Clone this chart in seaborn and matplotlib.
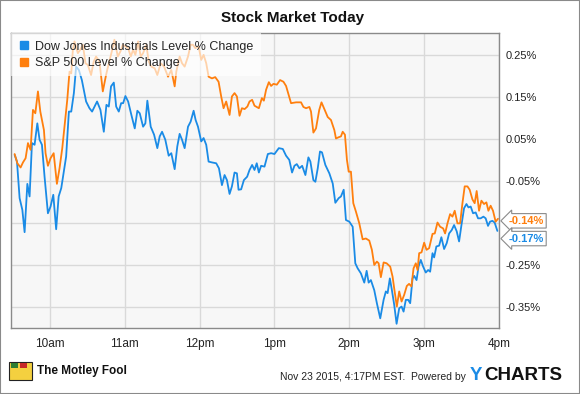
import pandas as pd
import seaborn as sns
import matplotlib
import matplotlib.pyplot as plt
from matplotlib.patches import Rectangle
from matplotlib.lines import Line2D
matplotlib.use('Agg')

# minutes since 9:30 and % change
dow_min = [1.7, 3.6, 5.7, 7.9, 9.7, 11.9, 13.7, 15.6, 17.7, 19.9, 21.7, 23.6, 25.7, 28.4, 30.5,
           32.7, 35.0, 37.0, 39.1, 43.0, 45.2, 47.1, 49.2, 51.0, 53.2, 55.6, 59.0, 61.7, 63.8,
           67.8, 70.5, 73.2, 75.3, 77.2, 79.0, 81.2, 83.1, 85.2, 87.1, 88.7, 90.5, 92.7, 95.3,
           98.0, 100.1, 102.0, 104.7, 106.5, 108.1, 110.8, 113.5, 116.1, 118.0, 119.9, 122.5,
           125.2, 127.3, 130.0, 132.1, 134.0, 135.9, 138.0, 140.7, 142.8, 145.2, 146.8, 148.7,
           151.3, 153.2, 155.3, 157.2, 159.9, 163.3, 165.5, 167.9, 170.0, 171.9, 174.0, 175.9,
           178.0, 179.9, 181.2, 183.3, 185.5, 188.1, 190.0, 192.1, 194.0, 195.8, 197.5, 199.3,
           202.0, 204.7, 207.3, 210.0, 213.5, 216.7, 219.3, 221.9, 224.1, 226.0, 227.9, 230.0,
           232.2, 234.8, 237.2, 238.8, 241.2, 242.8, 244.7, 246.5, 248.1, 250.8, 254.0, 256.7,
           258.8, 261.5, 263.3, 265.5, 267.3, 270.0, 272.7, 274.8, 276.7, 279.3, 282.0, 283.9,
           285.5, 287.3, 290.0, 292.1, 294.8, 297.5, 299.3, 300.7, 302.5, 304.1, 306.0, 307.9,
           310.0, 311.9, 313.5, 315.3, 317.2, 318.8, 320.7, 322.0, 323.9, 325.5, 327.3, 329.2,
           331.3, 333.2, 334.8, 336.7, 338.0, 339.8, 342.0, 343.8, 346.0, 348.1, 350.0, 352.1,
           354.0, 356.1, 358.0, 359.9, 362.0, 363.9, 365.5, 367.3, 369.2, 371.3, 373.2, 375.3,
           377.5, 379.3, 381.2, 382.8, 384.7, 386.5, 388.7]
dow_val = [0.012, -0.004, -0.091, -0.119, -0.172, -0.057, -0.087, 0.040, 0.036, 0.087, 0.048, 0.036,
           -0.040, -0.127, -0.111, -0.083, -0.165, -0.087, -0.067, 0.008, 0.115, 0.115, 0.159, 0.222,
           0.214, 0.190, 0.139, 0.123, 0.115, 0.139, 0.119, 0.067, 0.131, 0.127, 0.175, 0.184, 0.127,
           0.115, 0.135, 0.135, 0.152, 0.139, 0.107, 0.075, 0.117, 0.111, 0.079, 0.087, 0.141, 0.079,
           0.060, 0.028, 0.056, 0.067, 0.048, 0.010, 0.016, -0.022, 0.032, 0.062, 0.048, 0.028, 0.079,
           0.091, 0.117, 0.095, 0.079, 0.044, 0.052, 0.036, -0.004, -0.006, -0.008, -0.020, -0.060,
           -0.036, -0.048, -0.081, -0.063, -0.030, -0.032, -0.071, -0.070, -0.048, -0.040, -0.024,
           -0.012, -0.024, -0.008, -0.030, -0.014, -0.016, 0.014, 0.016, 0.014, 0.028, 0.026, 0.010,
           0.000, -0.030, -0.014, -0.010, -0.020, -0.014, -0.036, 0.006, -0.004, -0.048, -0.052,
           -0.020, 0.020, 0.018, -0.012, -0.032, -0.056, -0.102, -0.091, -0.087, -0.071, -0.143,
           -0.147, -0.159, -0.246, -0.258, -0.270, -0.292, -0.264, -0.292, -0.286, -0.310, -0.341,
           -0.377, -0.333, -0.313, -0.317, -0.282, -0.309, -0.345, -0.390, -0.353, -0.349, -0.361,
           -0.333, -0.333, -0.341, -0.282, -0.276, -0.286, -0.254, -0.238, -0.254, -0.268, -0.262,
           -0.266, -0.222, -0.232, -0.206, -0.204, -0.184, -0.212, -0.198, -0.175, -0.167, -0.155,
           -0.170, -0.194, -0.155, -0.115, -0.105, -0.113, -0.111, -0.127, -0.125, -0.139, -0.139,
           -0.135, -0.139, -0.157, -0.147, -0.145, -0.149, -0.169]

sp_min = [1.7, 3.9, 6.5, 8.4, 10.5, 12.4, 14.5, 16.4, 18.3, 20.4, 22.3, 23.9, 25.2, 26.5, 28.4,
          30.5, 33.0, 35.6, 37.7, 39.9, 41.7, 43.9, 45.7, 47.1, 48.4, 49.7, 52.4, 54.3, 56.4,
          58.5, 60.4, 63.0, 65.1, 67.0, 69.7, 72.4, 75.0, 77.2, 79.6, 81.7, 84.4, 86.5, 88.4,
          90.5, 92.7, 94.8, 96.7, 98.5, 100.7, 102.8, 104.7, 107.3, 109.2, 111.3, 114.0, 116.1,
          118.8, 121.5, 124.7, 127.3, 130.0, 131.3, 134.0, 135.9, 138.0, 140.7, 142.8, 144.7,
          146.5, 149.2, 151.3, 153.2, 155.3, 157.2, 159.9, 162.5, 165.2, 167.3, 169.2, 171.3,
          174.0, 175.9, 178.0, 179.9, 182.0, 183.9, 186.1, 188.3, 190.0, 192.1, 194.0, 197.5,
          199.9, 201.5, 203.3, 205.5, 207.3, 209.2, 211.9, 214.5, 217.2, 219.3, 223.3, 227.3,
          231.3, 233.2, 235.3, 238.0, 239.3, 241.2, 243.3, 245.9, 247.7, 250.3, 252.7, 255.3,
          258.0, 259.3, 261.5, 263.3, 264.7, 266.5, 268.1, 269.5, 271.3, 273.2, 275.3, 278.0,
          280.7, 283.3, 286.0, 288.1, 290.0, 292.1, 293.5, 295.3, 297.5, 299.9, 302.8, 304.7,
          306.0, 308.1, 310.0, 311.9, 314.0, 316.1, 317.9, 319.8, 321.5, 323.3, 324.7, 326.0,
          327.9, 330.0, 331.9, 334.0, 336.7, 338.5, 340.7, 342.8, 345.2, 346.8, 348.7, 350.8,
          352.7, 354.5, 356.7, 358.8, 360.7, 362.5, 364.7, 366.5, 368.7, 370.5, 372.1, 374.0,
          375.9, 378.0, 379.9, 381.5, 383.3, 385.2, 387.3, 389.2]
sp_val = [0.014, -0.008, -0.018, -0.006, 0.004, 0.040, 0.024, 0.119, 0.111, 0.163, 0.115, 0.091,
          0.071, 0.016, -0.014, 0.004, 0.016, -0.057, -0.020, 0.028, 0.079, 0.143, 0.210, 0.206,
          0.262, 0.282, 0.254, 0.262, 0.274, 0.230, 0.226, 0.202, 0.234, 0.246, 0.234, 0.163,
          0.202, 0.230, 0.258, 0.286, 0.246, 0.258, 0.274, 0.270, 0.266, 0.246, 0.262, 0.250,
          0.282, 0.246, 0.254, 0.274, 0.234, 0.222, 0.218, 0.202, 0.230, 0.222, 0.198, 0.214,
          0.175, 0.210, 0.246, 0.230, 0.222, 0.246, 0.274, 0.274, 0.266, 0.270, 0.238, 0.250,
          0.230, 0.198, 0.194, 0.197, 0.186, 0.151, 0.123, 0.139, 0.107, 0.151, 0.159, 0.151,
          0.105, 0.123, 0.121, 0.127, 0.139, 0.143, 0.129, 0.123, 0.147, 0.141, 0.167, 0.185,
          0.176, 0.181, 0.179, 0.190, 0.186, 0.176, 0.135, 0.137, 0.137, 0.126, 0.123, 0.126,
          0.115, 0.065, 0.075, 0.119, 0.137, 0.119, 0.102, 0.095, 0.071, 0.051, 0.054, 0.056,
          0.067, 0.060, 0.000, -0.028, -0.028, -0.103, -0.123, -0.151, -0.189, -0.187, -0.192,
          -0.214, -0.250, -0.242, -0.246, -0.279, -0.244, -0.246, -0.254, -0.278, -0.306, -0.349,
          -0.313, -0.337, -0.321, -0.300, -0.295, -0.301, -0.258, -0.246, -0.262, -0.222, -0.220,
          -0.197, -0.214, -0.210, -0.176, -0.175, -0.149, -0.159, -0.163, -0.175, -0.151, -0.129,
          -0.135, -0.121, -0.151, -0.151, -0.103, -0.063, -0.063, -0.071, -0.094, -0.103, -0.074,
          -0.121, -0.097, -0.105, -0.101, -0.121, -0.109, -0.121, -0.147, -0.140]

series_names = ["Dow Jones Industrials Level % Change", "S&P 500 Level % Change"]
colors = ["#1a8be6", "#ff7f0e"]
x_ticks = [30, 90, 150, 210, 270, 330, 390]
x_labels = ["10am", "11am", "12pm", "1pm", "2pm", "3pm", "4pm"]
y_ticks = [0.25, 0.15, 0.05, -0.05, -0.15, -0.25, -0.35]
y_labels = ["0.25%", "0.15%", "0.05%", "-0.05%", "", "-0.25%", "-0.35%"]

df = pd.concat([
    pd.DataFrame({"minute": dow_min, "change": dow_val, "series": series_names[0]}),
    pd.DataFrame({"minute": sp_min, "change": sp_val, "series": series_names[1]}),
])

sns.set_style("whitegrid", {"axes.facecolor": "#f7f7f7", "grid.color": "#d9d9d9",
                            "axes.edgecolor": "#8a8a8a"})
plt.rcParams['font.family'] = ['Liberation Sans', 'DejaVu Sans']

fig = plt.figure(figsize=(5.8, 3.94), dpi=100)
ax = fig.add_axes([11 / 580, 66 / 394, 488 / 580, 295 / 394])

sns.lineplot(data=df, x="minute", y="change", hue="series", palette=colors,
             estimator=None, sort=False, linewidth=1.3, ax=ax, legend=False)

ax.set_xlim(-1.2, 390)
ax.set_ylim(-0.40, 0.302)
ax.set_xticks(x_ticks)
ax.set_xticklabels(x_labels)
ax.set_yticks(y_ticks)
ax.set_yticklabels(y_labels)
ax.yaxis.tick_right()
ax.tick_params(axis='both', length=0, labelsize=8, colors='#222222')
ax.tick_params(axis='x', pad=7, labelsize=8.5)
ax.tick_params(axis='y', pad=5)
ax.set_xlabel("")
ax.set_ylabel("")
ax.grid(True, linewidth=1)
for s in ax.spines.values():
    s.set_linewidth(1)

# legend on top of the lines
handles = [Line2D([], [], marker='s', linestyle='', color=c, markersize=6) for c in colors]
leg = ax.legend(handles, series_names, loc='upper left', fontsize=9, frameon=True,
                fancybox=False, framealpha=0.65, edgecolor='none', facecolor='white',
                handlelength=0.8, handletextpad=0.5, labelspacing=0.35,
                borderaxespad=0, borderpad=0.6)

# last value tags
for vals, c, dy in [(sp_val, colors[1], -1.5), (dow_val, colors[0], -5.5)]:
    ax.annotate(f"{vals[-1]:.2f}%", xy=(390, vals[-1]), xytext=(7, dy), textcoords='offset points',
                ha='left', va='center', fontsize=8, fontweight='bold', color=c,
                annotation_clip=False,
                bbox=dict(boxstyle='larrow,pad=0.2', fc='white', ec='#8a8a8a', lw=0.8))

fig.text(0.505, 0.955, "Stock Market Today", ha='center', va='center', fontsize=11,
         fontweight='bold', color='#111111')

# footer
fig.add_artist(Rectangle((9 / 580, 14 / 394), 23 / 580, 18 / 394, transform=fig.transFigure,
                         fc='#f4d03f', ec='#222222', lw=0.8))
fig.add_artist(Rectangle((11 / 580, 26 / 394), 7 / 580, 5 / 394, transform=fig.transFigure,
                         fc='#2e7d32', ec='none'))
fig.add_artist(Rectangle((20 / 580, 26 / 394), 7 / 580, 5 / 394, transform=fig.transFigure,
                         fc='#c62828', ec='none'))
fig.text(37 / 580, 23 / 394, "The Motley Fool", ha='left', va='center', fontsize=8.5,
         fontweight='bold', color='#111111')
fig.text(466 / 580, 17 / 394, "Nov 23 2015, 4:17PM EST.  Powered by", ha='right', va='center',
         fontsize=7.5, color='#222222')
fig.text(470 / 580, 18 / 394, "Y", ha='left', va='center', fontsize=13.5, fontweight='bold',
         color='#1a8be6')
fig.text(484 / 580, 18 / 394, "CHARTS", ha='left', va='center', fontsize=13.5, fontweight='bold',
         color='#111111')

fig.add_artist(Rectangle((0, 0), 1, 1, transform=fig.transFigure, fill=False,
                         ec='#8a8a8a', lw=1.5))

plt.savefig("out.png", dpi=100)
